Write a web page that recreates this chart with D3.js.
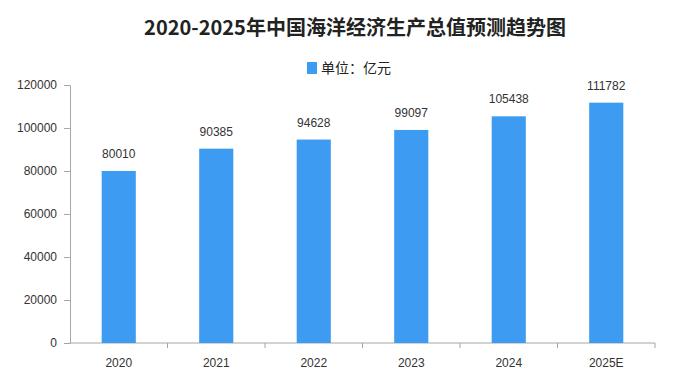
<!DOCTYPE html>
<html>
<head>
<meta charset="utf-8">
<script src="https://cdn.jsdelivr.net/npm/d3@7"></script>
<style>
  body { margin: 0; background: #fff; }
  text { font-family: "Liberation Sans", "Noto Sans CJK SC", sans-serif; }
</style>
</head>
<body>
<div id="chart"></div>
<script>
// 2020-2025 China ocean economy GDP (unit: 100 million yuan)
const years = ["2020", "2021", "2022", "2023", "2024", "2025E"];
const values = [80010, 90385, 94628, 99097, 105438, 111782];
const yTicks = [0, 20000, 40000, 60000, 80000, 100000, 120000];

const width = 687,
    height = 376;

const svg = d3.select("#chart")
    .append("svg")
    .attr("width", width)
    .attr("height", height);

const x = d3.scaleBand()
    .domain(years)
    .range([70, 655])
    .padding(0);

const y = d3.scaleLinear()
    .domain([0, 120000])
    .range([343, 85]);

// title
svg.append("text")
    .attr("x", 355)
    .attr("y", 35)
    .attr("text-anchor", "middle")
    .style("font-family", "'Noto Sans CJK SC'")
    .style("font-size", "20px")
    .style("font-weight", "bold")
    .attr("fill", "#222")
    .text("2020-2025年中国海洋经济生产总值预测趋势图");

// legend
svg.append("rect")
    .attr("x", 307)
    .attr("y", 62)
    .attr("width", 10)
    .attr("height", 12)
    .attr("fill", "#3d9bf2");

svg.append("text")
    .attr("x", 321)
    .attr("y", 73)
    .style("font-family", "'Noto Sans CJK SC'")
    .style("font-size", "14px")
    .attr("fill", "#222")
    .text("单位：亿元");

// y axis
const yAxis = svg.append("g")
    .attr("transform", "translate(70,0)")
    .call(d3.axisLeft(y).tickValues(yTicks).tickSize(6).tickPadding(7).tickFormat(d3.format("d")));

// x axis, ticks at band edges
const xAxis = svg.append("g")
    .attr("transform", "translate(0,343)");
xAxis.append("line")
    .attr("x1", 70).attr("x2", 655)
    .attr("stroke", "#a6a6a6");
xAxis.selectAll(".edge")
    .data(years)
    .join("line")
    .attr("x1", d => x(d) + x.bandwidth())
    .attr("x2", d => x(d) + x.bandwidth())
    .attr("y1", 0).attr("y2", 5)
    .attr("stroke", "#a6a6a6");
xAxis.selectAll(".lbl")
    .data(years)
    .join("text")
    .attr("x", d => x(d) + x.bandwidth() / 2)
    .attr("y", 24)
    .attr("text-anchor", "middle")
    .style("font-size", "12px")
    .attr("fill", "#333")
    .text(d => d);

yAxis.select(".domain").attr("stroke", "#a6a6a6");
yAxis.selectAll(".tick line").attr("stroke", "#a6a6a6");
yAxis.selectAll(".tick text")
    .style("font-family", "'Liberation Sans'")
    .style("font-size", "12px")
    .attr("fill", "#333");

// bars
const barW = x.bandwidth() * 0.35;

svg.append("g")
    .selectAll("rect")
    .data(values)
    .join("rect")
    .attr("x", (d, i) => x(years[i]) + (x.bandwidth() - barW) / 2)
    .attr("y", d => y(d))
    .attr("width", barW)
    .attr("height", d => y(0) - y(d))
    .attr("fill", "#3d9bf2");

// value labels
svg.append("g")
    .selectAll("text")
    .data(values)
    .join("text")
    .attr("x", (d, i) => x(years[i]) + x.bandwidth() / 2)
    .attr("y", d => y(d) - 13)
    .attr("text-anchor", "middle")
    .style("font-size", "12px")
    .attr("fill", "#333")
    .text(d => d);
</script>
</body>
</html>
